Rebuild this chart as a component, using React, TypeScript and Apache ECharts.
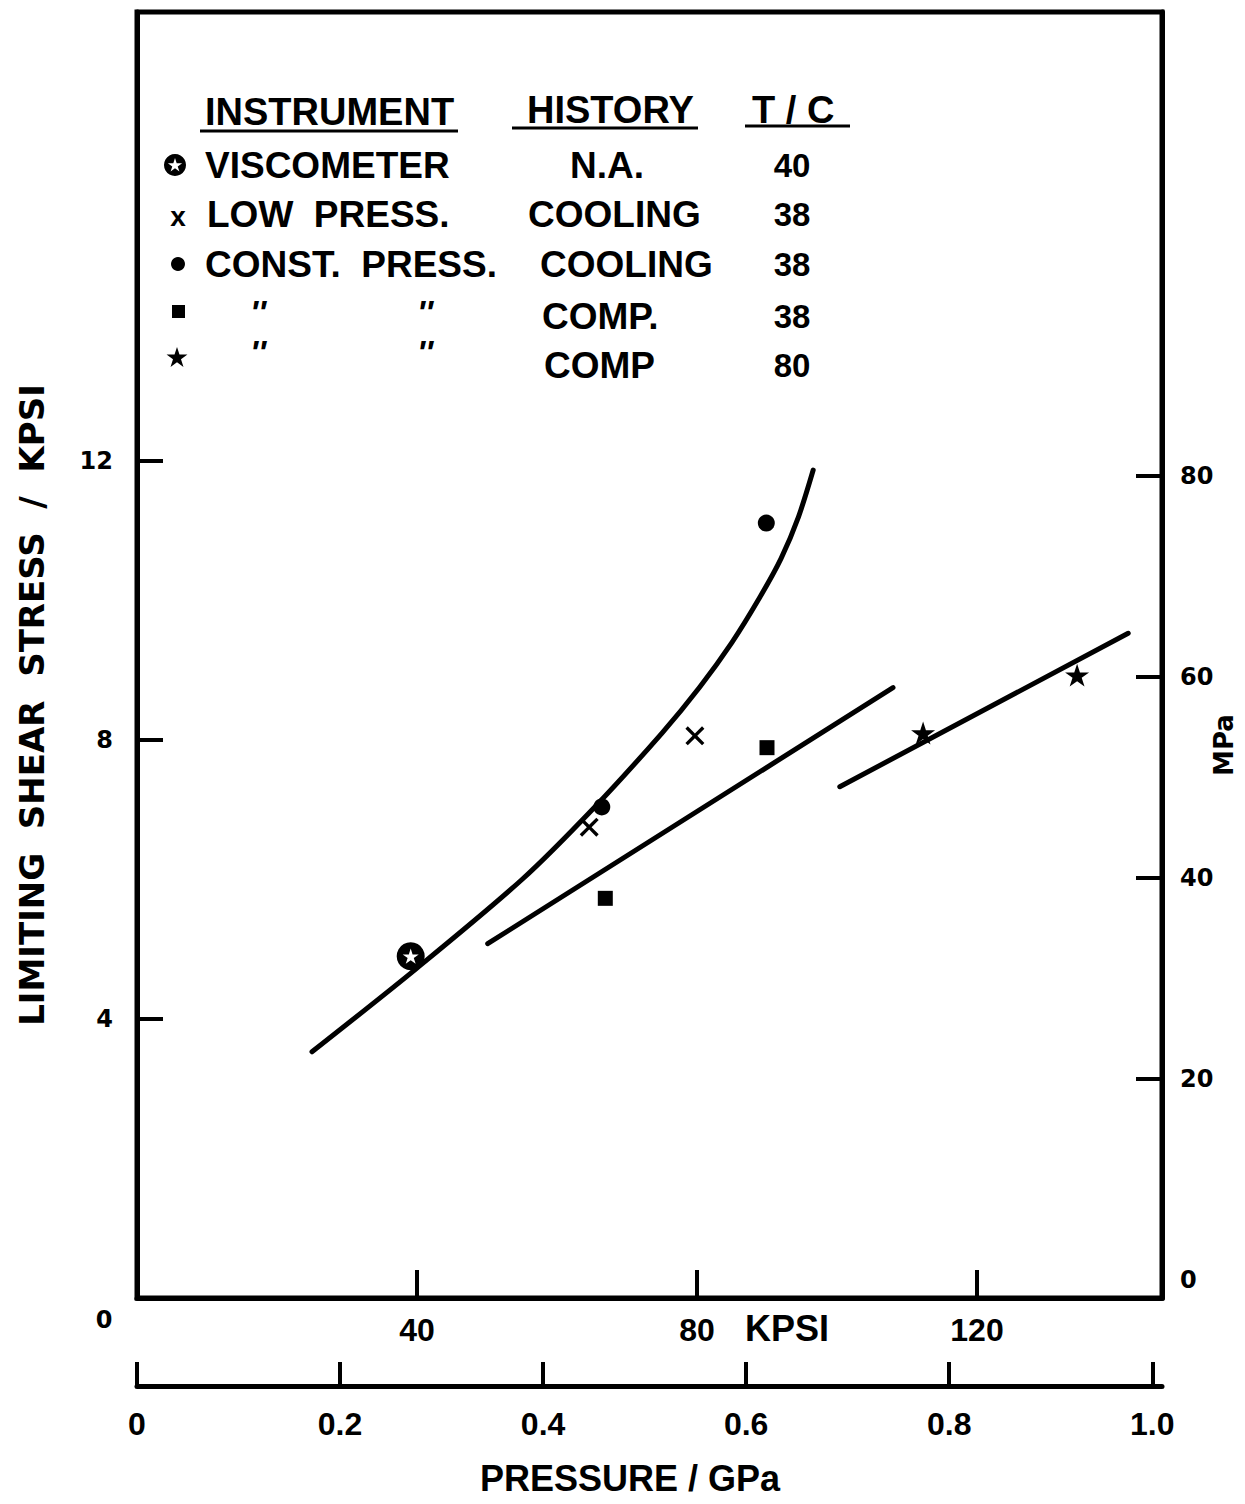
import React, { useEffect, useRef } from "react";
import * as echarts from "echarts";

// ---------- data (KPSI units) ----------
const KPSI_PER_GPA = 145.038;

const kpsiTicks = [40, 80, 120];
const stressTicks = [4, 8, 12];
const zeroLabel = "0";
const mpaTicks = [20, 40, 60, 80];
const mpaLabels = [0, 20, 40, 60, 80];
const gpaTicks = [0, 0.2, 0.4, 0.6, 0.8, 1.0];
const gpaLabels = ["0", "0.2", "0.4", "0.6", "0.8", "1.0"];

const viscometer = [[39.1, 4.9]];
const lowPressCooling = [[64.6, 6.75], [79.7, 8.06]];
const constPressCooling = [[66.4, 7.04], [89.9, 11.11]];
const constPressComp38 = [[66.9, 5.73], [90.0, 7.89]];
const constPressComp80 = [[112.3, 8.1], [134.3, 8.93]];

const curveFit = [
  [25.0, 3.53], [40.0, 4.73], [55.0, 6.0], [65.4, 7.04], [75.0, 8.1], [80.4, 8.76],
  [85.0, 9.4], [89.0, 10.05], [92.0, 10.6], [94.5, 11.2], [96.6, 11.87],
];
const comp38Fit = [[50.1, 5.08], [108.0, 8.75]];
const comp80Fit = [[100.4, 7.33], [141.6, 9.53]];

const legendHeaders = ["INSTRUMENT", "HISTORY", "T / C"];
const legendInstrument = ["VISCOMETER", "LOW  PRESS.", "CONST.  PRESS.", "''", "''"];
const legendHistory = ["N.A.", "COOLING", "COOLING", "COMP.", "COMP"];
const legendTemp = ["40", "38", "38", "38", "80"];

// ---------- layout ----------
const GL = 137, GT = 12, GW = 1025, GH = 1286;
const X_MAX = GW / 7;
const Y_MAX = GH / 69.75;
const GPA_MAX = X_MAX / KPSI_PER_GPA;
// right MPa scale as printed (slightly offset on the scan)
const MPA_MIN = -1.8;
const MPA_MAX = MPA_MIN + GH / 10.05;

const FONT = '"Liberation Sans", Arial, sans-serif';
const NARROW = '"Liberation Sans Narrow", "Liberation Sans", sans-serif';
const WIDE = '"DejaVu Sans", sans-serif';

const STAR = "path://M50,0 L61.23,34.55 L97.55,34.55 L68.17,55.9 L79.39,90.45 L50,69.1 L20.61,90.45 L31.83,55.9 L2.45,34.55 L38.77,34.55 Z";
const CROSS = "path://M0,3 L3,0 L12,9 L21,0 L24,3 L15,12 L24,21 L21,24 L12,15 L3,24 L0,21 L9,12 Z";

function starPts(cx: number, cy: number, R: number) {
  const pts: number[][] = [];
  for (let i = 0; i < 10; i++) {
    const a = -Math.PI / 2 + (i * Math.PI) / 5;
    const r = i % 2 === 0 ? R : R * 0.382;
    pts.push([cx + r * Math.cos(a), cy + r * Math.sin(a)]);
  }
  return pts;
}

function txt(text: string, x: number, y: number, font: string, align = "left", extra: any = {}) {
  return {
    type: "text", x, y, ...extra,
    style: { text, font, fill: "#000", textAlign: align, textVerticalAlign: "middle" },
  };
}

function buildOption() {
  const LF = `bold 37px ${FONT}`;
  const HF = `bold 38px ${FONT}`;
  const NF = `bold 33px ${FONT}`;
  const rowsY = [165, 214, 264, 316, 365];
  const instX = [205, 207, 205, 248, 248];
  const histPos: [number, string][] = [[607, "center"], [528, "left"], [540, "left"], [542, "left"], [544, "left"]];
  const graphics: any[] = [];

  // headers
  graphics.push(txt(legendHeaders[0], 205, 112, HF));
  graphics.push(txt(legendHeaders[1], 527, 110, HF));
  graphics.push(txt(legendHeaders[2], 752, 110, HF));
  const ul = [[200, 458, 131], [512, 698, 128], [745, 850, 126]];
  ul.forEach(([a, b, y]) =>
    graphics.push({ type: "line", shape: { x1: a, y1: y, x2: b, y2: y }, style: { stroke: "#000", lineWidth: 3 } })
  );

  legendInstrument.forEach((t, i) => {
    if (i < 3) graphics.push(txt(t, instX[i], rowsY[i], LF));
    else {
      const yy = i === 3 ? 312 : 352;
      graphics.push(txt(t, 258, yy, `italic bold 34px ${FONT}`, "center"));
      graphics.push(txt(t, 425, yy, `italic bold 34px ${FONT}`, "center"));
    }
    graphics.push(txt(legendHistory[i], histPos[i][0], rowsY[i], LF, histPos[i][1]));
    graphics.push(txt(legendTemp[i], 792, rowsY[i], NF, "center"));
  });

  // legend markers
  graphics.push({ type: "circle", shape: { cx: 175, cy: 165, r: 11 }, style: { fill: "#000" } });
  graphics.push({ type: "polygon", shape: { points: starPts(175, 165.5, 7.5) }, style: { fill: "#fff" } });
  graphics.push(txt("x", 178, 216, `bold 28px ${FONT}`, "center"));
  graphics.push({ type: "circle", shape: { cx: 178, cy: 264, r: 7 }, style: { fill: "#000" } });
  graphics.push({ type: "rect", shape: { x: 172, y: 305, width: 13, height: 13 }, style: { fill: "#000" } });
  graphics.push({ type: "polygon", shape: { points: starPts(177, 358, 11) }, style: { fill: "#000" } });

  // axis titles and extra labels
  graphics.push(txt("LIMITING  SHEAR  STRESS  /  KPSI", 32, 705, `bold 34px ${WIDE}`, "center", { rotation: Math.PI / 2 }));
  graphics.push(txt("MPa", 1224, 745, `bold 26px ${WIDE}`, "center", { rotation: Math.PI / 2 }));
  graphics.push(txt("PRESSURE / GPa", 630, 1478, `bold 36px ${NARROW}`, "center"));
  graphics.push(txt("KPSI", 745, 1328, `bold 36px ${NARROW}`, "left"));
  graphics.push(txt(zeroLabel, 104, 1320, `bold 24px ${WIDE}`, "center"));

  const lineSeries = (data: number[][], smooth: number | boolean) => ({
    type: "line", data, smooth, showSymbol: false, symbol: "none",
    lineStyle: { color: "#000", width: 5, cap: "round" }, silent: true, z: 2,
  });
  const scatter = (data: number[][], symbol: string, size: number, color = "#000", z = 3) => ({
    type: "scatter", data, symbol, symbolSize: size, symbolKeepAspect: true,
    itemStyle: { color, opacity: 1 }, silent: true, z,
  });

  return {
    animation: false,
    backgroundColor: "#fff",
    grid: [
      { left: GL, top: GT, width: GW, height: GH, show: true, borderColor: "#000", borderWidth: 5, backgroundColor: "transparent" },
      { left: GL, top: 1300, width: GW, height: 86, show: false },
    ],
    xAxis: [
      {
        gridIndex: 0, type: "value", min: 0, max: X_MAX, position: "bottom",
        axisLine: { show: true, onZero: false, lineStyle: { color: "#000", width: 5 } },
        axisTick: { show: true, inside: true, length: 28, lineStyle: { color: "#000", width: 4 }, customValues: kpsiTicks },
        axisLabel: { customValues: kpsiTicks, margin: 16, color: "#000", fontFamily: NARROW, fontWeight: "bold", fontSize: 32 },
        splitLine: { show: false },
      },
      {
        gridIndex: 1, type: "value", min: 0, max: GPA_MAX, position: "bottom",
        axisLine: { show: true, onZero: false, lineStyle: { color: "#000", width: 5 } },
        axisTick: { show: true, inside: true, length: 24, lineStyle: { color: "#000", width: 4 }, customValues: gpaTicks },
        axisLabel: {
          customValues: gpaTicks, margin: 22, color: "#000", fontFamily: NARROW, fontWeight: "bold", fontSize: 32,
          formatter: (v: number) => gpaLabels[gpaTicks.findIndex((t) => Math.abs(t - v) < 1e-6)] ?? "",
        },
        splitLine: { show: false },
      },
    ],
    yAxis: [
      {
        gridIndex: 0, type: "value", min: 0, max: Y_MAX, position: "left",
        axisLine: { show: true, onZero: false, lineStyle: { color: "#000", width: 5 } },
        axisTick: { show: true, inside: true, length: 26, lineStyle: { color: "#000", width: 4 }, customValues: stressTicks },
        axisLabel: { customValues: stressTicks, margin: 24, color: "#000", fontFamily: WIDE, fontWeight: "bold", fontSize: 24 },
        splitLine: { show: false },
      },
      {
        gridIndex: 0, type: "value", min: MPA_MIN, max: MPA_MAX, position: "right",
        axisLine: { show: true, onZero: false, lineStyle: { color: "#000", width: 5 } },
        axisTick: { show: true, inside: true, length: 26, lineStyle: { color: "#000", width: 4 }, customValues: mpaTicks },
        axisLabel: { customValues: mpaLabels, margin: 18, color: "#000", fontFamily: WIDE, fontWeight: "bold", fontSize: 24 },
        splitLine: { show: false },
      },
      { gridIndex: 1, type: "value", min: 0, max: 1, show: false },
    ],
    graphic: graphics,
    series: [
      lineSeries(curveFit, 0.3),
      lineSeries(comp38Fit, false),
      lineSeries(comp80Fit, false),
      scatter(viscometer, "circle", 28),
      scatter(viscometer, STAR, 16, "#fff", 4),
      scatter(lowPressCooling, CROSS, 19),
      scatter(constPressCooling, "circle", 17),
      scatter(constPressComp38, "rect", 15),
      scatter(constPressComp80, STAR, 24),
    ],
  };
}

export default function App() {
  const ref = useRef<HTMLDivElement>(null);
  useEffect(() => {
    if (!ref.current) return;
    const chart = echarts.init(ref.current, null, { renderer: "svg" });
    chart.setOption(buildOption() as any);
    return () => chart.dispose();
  }, []);
  return (
    <div
      ref={ref}
      style={{ position: "absolute", left: 0, top: 0, width: 1245, height: 1504, background: "#fff" }}
    />
  );
}
